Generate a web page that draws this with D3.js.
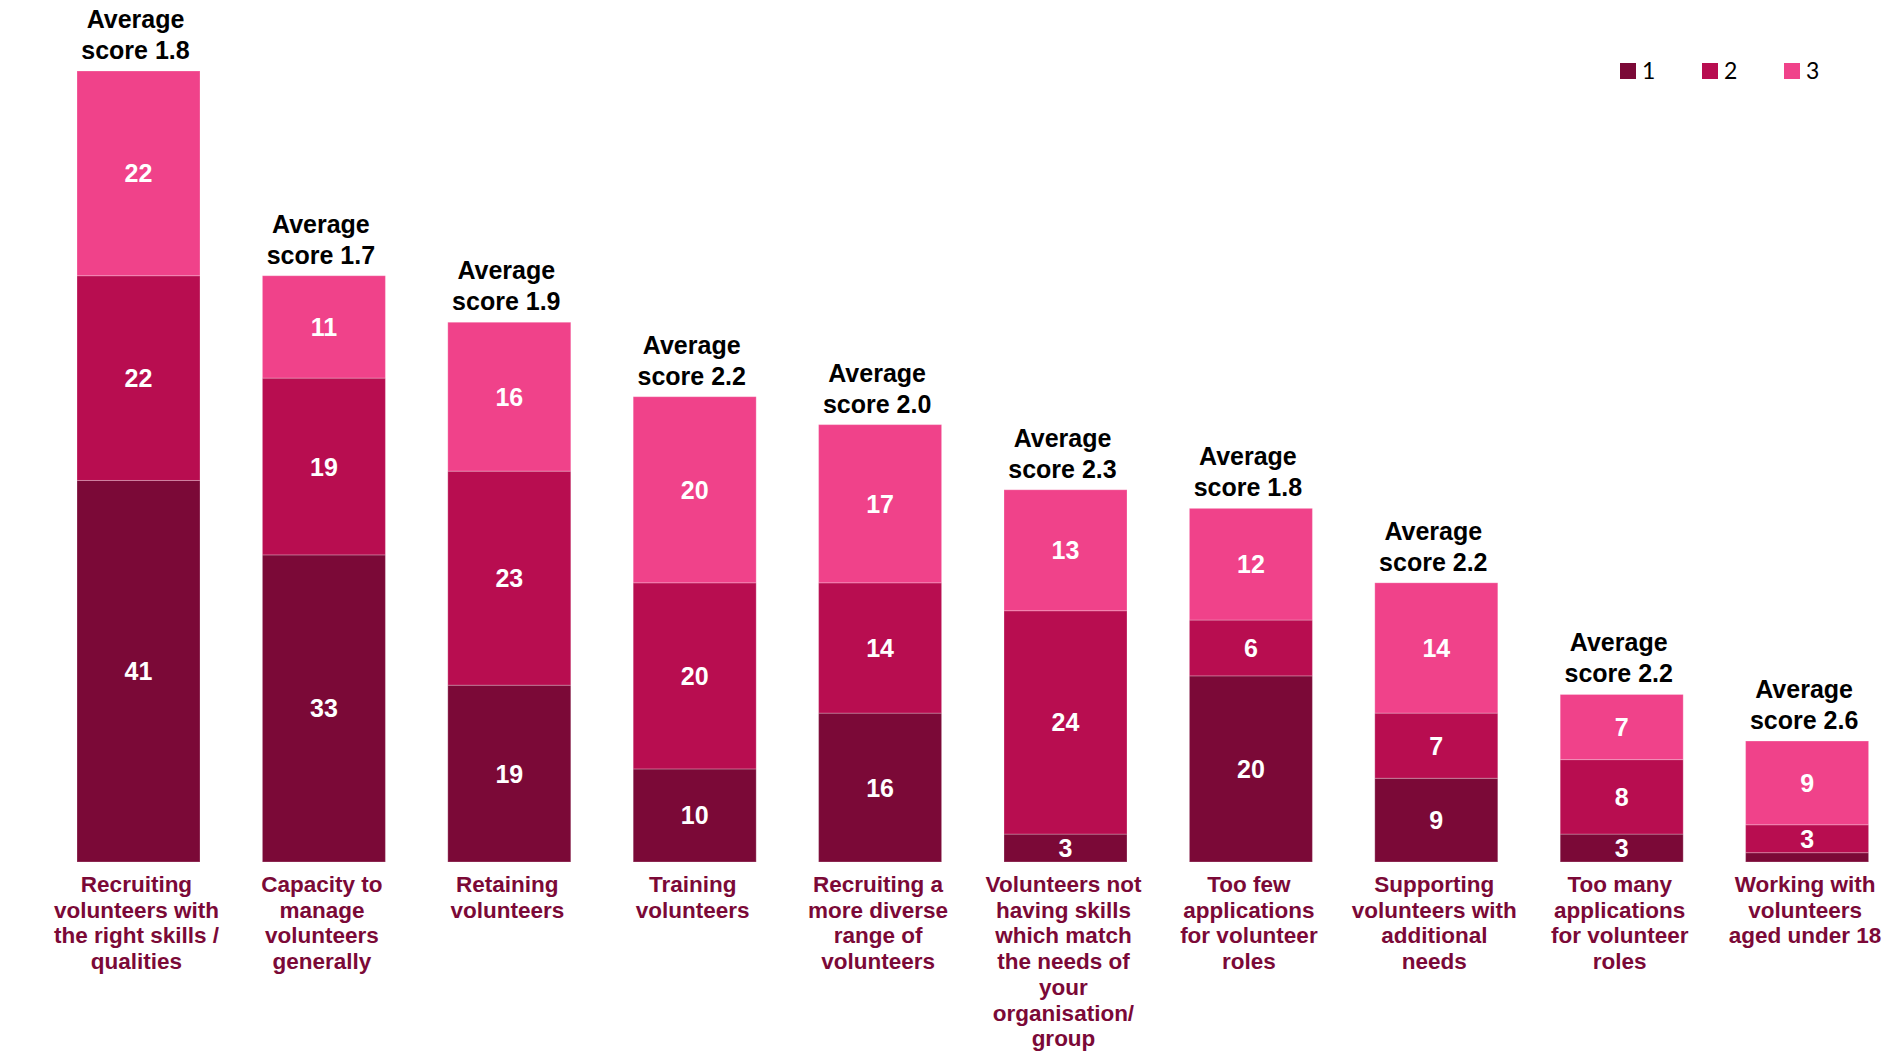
<!DOCTYPE html>
<html>
<head>
<meta charset="utf-8">
<script src="https://cdn.jsdelivr.net/npm/d3@7"></script>
<style>
  html, body { margin: 0; padding: 0; background: #ffffff; }
  svg { display: block; }
</style>
</head>
<body>
<svg id="chart" width="1892" height="1051"></svg>
<script>
// Challenges in working with volunteers, ranked 1-3 (stacked counts)
const categories = [
  "Recruiting\nvolunteers with\nthe right skills /\nqualities",
  "Capacity to\nmanage\nvolunteers\ngenerally",
  "Retaining\nvolunteers",
  "Training\nvolunteers",
  "Recruiting a\nmore diverse\nrange of\nvolunteers",
  "Volunteers not\nhaving skills\nwhich match\nthe needs of\nyour\norganisation/\ngroup",
  "Too few\napplications\nfor volunteer\nroles",
  "Supporting\nvolunteers with\nadditional\nneeds",
  "Too many\napplications\nfor volunteer\nroles",
  "Working with\nvolunteers\naged under 18"
];
const rank1 = [41, 33, 19, 10, 16, 3, 20, 9, 3, 1];
const rank2 = [22, 19, 23, 20, 14, 24, 6, 7, 8, 3];
const rank3 = [22, 11, 16, 20, 17, 13, 12, 14, 7, 9];
const averageScores = ["1.8", "1.7", "1.9", "2.2", "2.0", "2.3", "1.8", "2.2", "2.2", "2.6"];
const seriesKeys = ["1", "2", "3"];
const seriesColors = ["#7b0937", "#b80d50", "#f0428a"];
// Segments smaller than this are left unlabelled
const minLabelValue = 2;

const rows = categories.map((c, i) => ({
  category: c, "1": rank1[i], "2": rank2[i], "3": rank3[i], avg: averageScores[i]
}));

const svg = d3.select("#chart");
const font = "'Liberation Sans', Arial, Helvetica, sans-serif";

const x = d3.scaleBand()
  .domain(categories)
  .range([45.8, 1899.8])
  .paddingInner(0.3366)
  .paddingOuter(0.1683);

const y = d3.scaleLinear()
  .domain([0, 85])
  .range([862, 71]);

const color = d3.scaleOrdinal().domain(seriesKeys).range(seriesColors);

const stacked = d3.stack().keys(seriesKeys)(rows);

// Stacked bars
const layers = svg.append("g").selectAll("g")
  .data(stacked)
  .join("g")
  .attr("fill", d => color(d.key));

layers.selectAll("rect")
  .data(d => d)
  .join("rect")
  .attr("x", d => x(d.data.category))
  .attr("y", d => y(d[1]))
  .attr("width", x.bandwidth())
  .attr("height", d => y(d[0]) - y(d[1]))
  .attr("stroke", "rgba(255,255,255,0.25)")
  .attr("stroke-width", 1);

// Value labels inside segments
layers.selectAll("text")
  .data(d => d.filter(s => (s[1] - s[0]) >= minLabelValue))
  .join("text")
  .attr("x", d => x(d.data.category) + x.bandwidth() / 2)
  .attr("y", d => (y(d[0]) + y(d[1])) / 2)
  .attr("dy", "0.36em")
  .attr("text-anchor", "middle")
  .attr("font-family", font)
  .attr("font-weight", "bold")
  .attr("font-size", 25)
  .attr("fill", "#ffffff")
  .text(d => d[1] - d[0]);

// Average score above each bar
const totals = rows.map(r => r["1"] + r["2"] + r["3"]);
const avgG = svg.append("g");
rows.forEach((r, i) => {
  const cx = x(r.category) + x.bandwidth() / 2;
  const top = y(totals[i]);
  const t = avgG.append("text")
    .attr("text-anchor", "middle")
    .attr("font-family", font)
    .attr("font-weight", "bold")
    .attr("font-size", 25)
    .attr("fill", "#000000");
  t.append("tspan").attr("x", cx - 3).attr("y", top - 43).text("Average");
  t.append("tspan").attr("x", cx - 3).attr("y", top - 12).text("score " + r.avg);
});

// Category axis labels
const axisG = svg.append("g");
categories.forEach(c => {
  const cx = x(c) + x.bandwidth() / 2;
  const t = axisG.append("text")
    .attr("text-anchor", "middle")
    .attr("font-family", font)
    .attr("font-weight", "bold")
    .attr("font-size", 22.5)
    .attr("fill", "#7b0937");
  c.split("\n").forEach((line, j) => {
    t.append("tspan").attr("x", cx - 2).attr("y", 892 + j * 25.7).text(line);
  });
});

// Legend
const legend = svg.append("g").attr("transform", "translate(1620,63)");
const item = legend.selectAll("g")
  .data(seriesKeys)
  .join("g")
  .attr("transform", (d, i) => `translate(${i * 82},0)`);
item.append("rect")
  .attr("width", 16).attr("height", 16)
  .attr("fill", d => color(d));
item.append("text")
  .attr("x", 22).attr("y", 16)
  .attr("font-family", "Lato, 'Open Sans', sans-serif")
  .attr("font-size", 23)
  .attr("fill", "#000000")
  .text(d => d);
</script>
</body>
</html>
